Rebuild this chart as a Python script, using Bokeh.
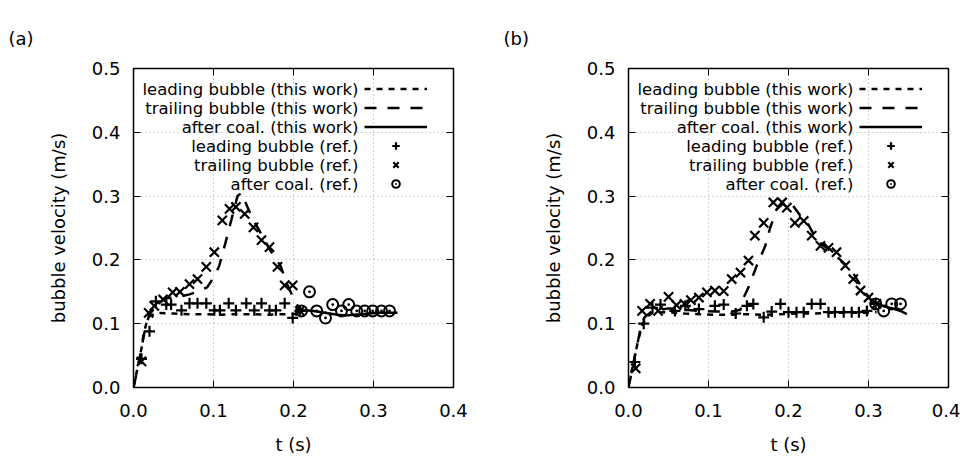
from bokeh.plotting import figure
from bokeh.models import (Range1d, FixedTicker, NumeralTickFormatter, LinearAxis,
                          Legend, LegendItem, Label)
from bokeh.layouts import row
from bokeh.embed import file_html
from bokeh.resources import INLINE

# ---------------- data ----------------
x_ticks = [0.0, 0.1, 0.2, 0.3, 0.4]
y_ticks = [0.0, 0.1, 0.2, 0.3, 0.4, 0.5]
legend_labels = ["leading bubble (this work)", "trailing bubble (this work)",
                 "after coal. (this work)", "leading bubble (ref.)",
                 "trailing bubble (ref.)", "after coal. (ref.)"]
x_label = "t (s)"
y_label = "bubble velocity (m/s)"

# panel (a)
a_lead_t = [0.000, 0.005, 0.010, 0.013, 0.016, 0.020, 0.030, 0.050, 0.070, 0.090, 0.110, 0.130, 0.150, 0.170, 0.190, 0.210]
a_lead_v = [0.000, 0.030, 0.062, 0.086, 0.100, 0.112, 0.117, 0.116, 0.115, 0.115, 0.114, 0.115, 0.115, 0.114, 0.115, 0.116]
a_trail_t = [0.000, 0.005, 0.010, 0.015, 0.020, 0.030, 0.040, 0.050, 0.060, 0.070, 0.080, 0.092, 0.100, 0.107, 0.115, 0.123, 0.130, 0.135, 0.142, 0.150, 0.160, 0.169, 0.176, 0.184, 0.192, 0.200, 0.208]
a_trail_v = [0.000, 0.028, 0.062, 0.095, 0.115, 0.130, 0.140, 0.141, 0.143, 0.146, 0.150, 0.157, 0.172, 0.190, 0.227, 0.266, 0.300, 0.305, 0.284, 0.262, 0.240, 0.219, 0.205, 0.190, 0.162, 0.140, 0.122]
a_coal_t = [0.205, 0.215, 0.225, 0.235, 0.245, 0.255, 0.265, 0.275, 0.285, 0.295, 0.305, 0.315, 0.325, 0.330]
a_coal_v = [0.120, 0.121, 0.120, 0.118, 0.116, 0.114, 0.113, 0.114, 0.115, 0.116, 0.117, 0.117, 0.117, 0.117]
a_lead_ref_t = [0.010, 0.020, 0.028, 0.041, 0.047, 0.060, 0.070, 0.080, 0.091, 0.101, 0.108, 0.119, 0.128, 0.141, 0.151, 0.160, 0.170, 0.178, 0.189, 0.199, 0.208]
a_lead_ref_v = [0.045, 0.088, 0.135, 0.130, 0.130, 0.121, 0.132, 0.132, 0.132, 0.121, 0.121, 0.132, 0.121, 0.132, 0.121, 0.132, 0.121, 0.121, 0.132, 0.109, 0.120]
a_trail_ref_t = [0.010, 0.019, 0.026, 0.037, 0.049, 0.058, 0.070, 0.080, 0.091, 0.101, 0.111, 0.120, 0.128, 0.139, 0.150, 0.160, 0.170, 0.180, 0.189, 0.199, 0.208]
a_trail_ref_v = [0.041, 0.117, 0.128, 0.138, 0.149, 0.150, 0.162, 0.170, 0.189, 0.212, 0.262, 0.280, 0.283, 0.272, 0.251, 0.231, 0.220, 0.189, 0.160, 0.160, 0.120]
a_coal_ref_t = [0.210, 0.220, 0.229, 0.240, 0.249, 0.260, 0.269, 0.279, 0.289, 0.299, 0.310, 0.320]
a_coal_ref_v = [0.120, 0.150, 0.120, 0.109, 0.130, 0.120, 0.130, 0.120, 0.120, 0.120, 0.120, 0.120]

# panel (b)
b_lead_t = [0.000, 0.006, 0.012, 0.017, 0.022, 0.030, 0.050, 0.070, 0.090, 0.110, 0.130, 0.150, 0.170, 0.190, 0.210, 0.230, 0.250, 0.270, 0.290, 0.310]
b_lead_v = [0.005, 0.037, 0.074, 0.097, 0.110, 0.117, 0.118, 0.116, 0.115, 0.114, 0.114, 0.115, 0.114, 0.115, 0.116, 0.116, 0.117, 0.117, 0.117, 0.118]
b_trail_t = [0.000, 0.005, 0.010, 0.015, 0.020, 0.030, 0.050, 0.070, 0.090, 0.110, 0.130, 0.140, 0.144, 0.150, 0.160, 0.171, 0.177, 0.185, 0.196, 0.205, 0.215, 0.222, 0.235, 0.252, 0.265, 0.279, 0.294, 0.304, 0.312]
b_trail_v = [0.000, 0.030, 0.062, 0.092, 0.110, 0.120, 0.124, 0.122, 0.120, 0.119, 0.119, 0.122, 0.141, 0.157, 0.190, 0.222, 0.250, 0.279, 0.292, 0.286, 0.269, 0.262, 0.232, 0.214, 0.200, 0.183, 0.152, 0.136, 0.128]
b_coal_t = [0.302, 0.310, 0.320, 0.330, 0.340, 0.348]
b_coal_v = [0.134, 0.131, 0.127, 0.124, 0.120, 0.115]
b_lead_ref_t = [0.008, 0.019, 0.030, 0.040, 0.058, 0.071, 0.088, 0.108, 0.119, 0.134, 0.148, 0.156, 0.169, 0.179, 0.190, 0.200, 0.210, 0.219, 0.229, 0.240, 0.250, 0.258, 0.269, 0.279, 0.288, 0.298, 0.309]
b_lead_ref_v = [0.040, 0.100, 0.125, 0.130, 0.120, 0.128, 0.123, 0.128, 0.130, 0.116, 0.128, 0.131, 0.110, 0.119, 0.131, 0.118, 0.118, 0.118, 0.131, 0.131, 0.118, 0.118, 0.118, 0.118, 0.118, 0.120, 0.131]
b_trail_ref_t = [0.009, 0.017, 0.027, 0.037, 0.050, 0.060, 0.070, 0.078, 0.088, 0.098, 0.108, 0.119, 0.129, 0.140, 0.150, 0.158, 0.169, 0.181, 0.192, 0.198, 0.208, 0.219, 0.229, 0.240, 0.250, 0.260, 0.271, 0.281, 0.290, 0.300, 0.310]
b_trail_ref_v = [0.030, 0.120, 0.131, 0.120, 0.142, 0.129, 0.131, 0.137, 0.141, 0.149, 0.152, 0.151, 0.170, 0.180, 0.199, 0.238, 0.258, 0.290, 0.290, 0.282, 0.258, 0.261, 0.238, 0.222, 0.219, 0.212, 0.191, 0.170, 0.152, 0.141, 0.131]
b_coal_ref_t = [0.309, 0.319, 0.329, 0.340]
b_coal_ref_v = [0.131, 0.120, 0.131, 0.131]

FONT = "DejaVu Sans"


def make_panel(tag, lines, refs, border_right):
    p = figure(frame_width=320, frame_height=319,
               min_border_left=133, min_border_right=border_right,
               min_border_top=68, min_border_bottom=70,
               x_range=Range1d(0, 0.4), y_range=Range1d(0, 0.5),
               output_backend="svg", toolbar_location=None,
               background_fill_color="white", border_fill_color="white")
    p.outline_line_color = "black"
    p.outline_line_width = 1.5

    # panel tag "(a)" / "(b)" at the figure's top-left
    p.title.text = tag
    p.title.align = "left"
    p.title.offset = -125
    p.title.standoff = 39
    p.title.text_font = FONT
    p.title.text_font_size = "18px"
    p.title.text_font_style = "normal"
    p.title.text_color = "black"

    for ax, ticks in ((p.xaxis[0], x_ticks), (p.yaxis[0], y_ticks)):
        ax.ticker = FixedTicker(ticks=ticks)
        ax.formatter = NumeralTickFormatter(format="0.0")
        ax.major_tick_in = 7
        ax.major_tick_out = 0
        ax.minor_tick_line_color = None
        ax.major_label_text_font = FONT
        ax.major_label_text_font_size = "18px"
        ax.major_label_text_color = "black"
        ax.axis_label_text_font = FONT
        ax.axis_label_text_font_size = "18px"
        ax.axis_label_text_font_style = "normal"
        ax.axis_label_text_color = "black"
        ax.axis_line_color = "black"
    p.xaxis[0].axis_label = x_label
    p.yaxis[0].axis_label = y_label
    p.xaxis[0].major_label_standoff = 16
    p.xaxis[0].axis_label_standoff = 14
    p.yaxis[0].major_label_standoff = 13
    p.yaxis[0].axis_label_standoff = 20

    # mirrored tick marks on top and right (no labels drawn)
    for side, ticks in (("above", x_ticks), ("right", y_ticks)):
        ax = LinearAxis(ticker=FixedTicker(ticks=ticks),
                        major_label_text_font_size="1px",
                        major_label_text_color=None,
                        major_label_standoff=0,
                        major_tick_in=7, major_tick_out=0,
                        minor_tick_line_color=None,
                        axis_line_color=None)
        p.add_layout(ax, side)

    p.xgrid.ticker = FixedTicker(ticks=x_ticks)
    p.ygrid.ticker = FixedTicker(ticks=y_ticks)
    for g in (p.xgrid[0], p.ygrid[0]):
        g.grid_line_color = "#a8a8a8"
        g.grid_line_dash = "1 3"
        g.grid_line_width = 1

    (lt, lv), (tt, tv), (ct, cv) = lines
    (lrt, lrv), (trt, trv), (crt, crv) = refs
    r1 = p.line(lt, lv, line_color="black", line_width=2.5, line_dash="6 6")
    r2 = p.line(tt, tv, line_color="black", line_width=2.5, line_dash="12 11")
    r3 = p.line(ct, cv, line_color="black", line_width=2.5)
    r4 = p.scatter(lrt, lrv, marker="cross", size=11, line_color="black", line_width=2.2)
    r5 = p.scatter(trt, trv, marker="x", size=13, line_color="black", line_width=2.2)
    r6 = p.scatter(crt, crv, marker="circle_dot", size=11, line_color="black",
                   line_width=2, fill_color=None)

    # legend samples (gnuplot style: text on the left, sample on the right)
    items = [LegendItem(label="", renderers=[r]) for r in (r1, r2, r3, r4, r5, r6)]
    leg = Legend(items=items, location=(231, 194), padding=0, spacing=0, margin=0,
                 glyph_width=63, glyph_height=19, label_height=19, label_width=0,
                 label_standoff=0, label_text_font_size="1px", label_text_color=None,
                 border_line_alpha=0, background_fill_alpha=0)
    p.add_layout(leg)

    for i, txt in enumerate(legend_labels):
        p.add_layout(Label(x=225, y=298.5 - 19 * i, x_units="screen", y_units="screen",
                           text=txt, text_align="right", text_baseline="middle",
                           text_font=FONT, text_font_size="16.5px", text_color="black"))
    return p


pa = make_panel("(a)",
                [(a_lead_t, a_lead_v), (a_trail_t, a_trail_v), (a_coal_t, a_coal_v)],
                [(a_lead_ref_t, a_lead_ref_v), (a_trail_ref_t, a_trail_ref_v), (a_coal_ref_t, a_coal_ref_v)],
                42)
pb = make_panel("(b)",
                [(b_lead_t, b_lead_v), (b_trail_t, b_trail_v), (b_coal_t, b_coal_v)],
                [(b_lead_ref_t, b_lead_ref_v), (b_trail_ref_t, b_trail_ref_v), (b_coal_ref_t, b_coal_ref_v)],
                12)

layout = row(pa, pb)
open("out.html", "w").write(file_html(layout, INLINE))
